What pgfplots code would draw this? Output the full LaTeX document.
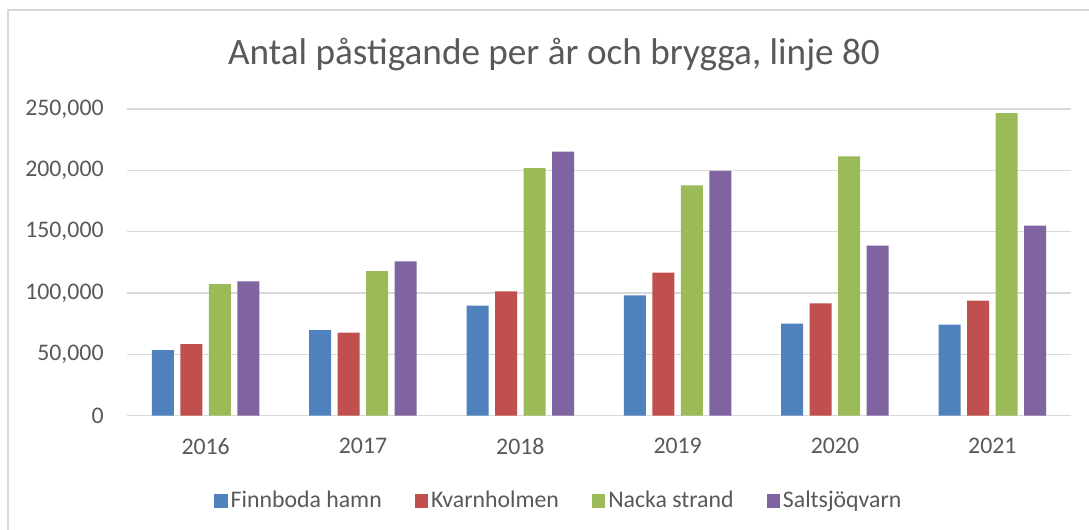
\documentclass[border=0pt]{standalone}
\usepackage{fontspec}
\setmainfont{Carlito}
\usepackage{pgfplots}
\pgfplotsset{compat=1.18}
\definecolor{txt}{HTML}{595959}
\definecolor{gridc}{HTML}{D9D9D9}
\definecolor{cA}{HTML}{4F81BD}
\definecolor{cB}{HTML}{C0504D}
\definecolor{cC}{HTML}{9BBB59}
\definecolor{cD}{HTML}{8064A2}
\pgfplotsset{sq/.style={draw=none, fill=#1, legend image code/.code={\fill[#1] (0pt,-3.35pt) rectangle (6.7pt,3.35pt);}}}
\begin{document}
\begin{tikzpicture}
\useasboundingbox (0,0) rectangle (544.5pt,265pt);
\fill[white] (0,0) rectangle (544.5pt,265pt);
\draw[gridc, line width=0.65pt] (4pt,0) -- (4pt,260pt) -- (544.5pt,260pt);
\node[anchor=base, font=\fontsize{18.6}{22}\selectfont, text=txt, inner sep=0pt] at (277pt,232.5pt) {Antal påstigande per år och brygga, linje 80};
\begin{axis}[
  at={(63.5pt,57.15pt)}, anchor=south west,
  scale only axis, width=472pt, height=153.35pt,
  ybar=3.25pt, bar width=11pt,
  xmin=-0.5, xmax=5.5, ymin=0, ymax=250000,
  xtick={0,1,2,3,4,5}, xticklabels={2016,2017,2018,2019,2020,2021},
  ytick={0,50000,100000,150000,200000,250000},
  scaled y ticks=false,
  /pgf/number format/assume math mode=true,
  yticklabel={\pgfmathprintnumber[fixed,1000 sep={,}]{\tick}},
  ymajorgrids, grid style={gridc, line width=0.7pt},
  axis line style={draw=none},
  major tick length=0pt, tick style={draw=none},
  ticklabel style={font=\fontsize{11.9}{14}\selectfont, text=txt, inner sep=0pt},
  yticklabel style={anchor=east, xshift=-11.5pt},
  xticklabel style={anchor=north, yshift=-11pt},
  legend columns=4,
  legend style={draw=none, fill=none, at={(0.458,-0.278)}, anchor=center,
    font=\fontsize{11.9}{14}\selectfont, text=txt,
    nodes={inner xsep=1.5pt, inner ysep=0pt},
    /tikz/column sep=0pt},
]
\addplot[sq=cA] coordinates {(0,53500) (1,69800) (2,89700) (3,98100) (4,75000) (5,74200)};
\addplot[sq=cB] coordinates {(0,58400) (1,67700) (2,101400) (3,116600) (4,91600) (5,93800)};
\addplot[sq=cC] coordinates {(0,107300) (1,117900) (2,201900) (3,187800) (4,211400) (5,246700)};
\addplot[sq=cD] coordinates {(0,109500) (1,125800) (2,215200) (3,199500) (4,138600) (5,154900)};
\legend{Finnboda hamn\rule{15pt}{0pt}, Kvarnholmen\rule{15pt}{0pt}, Nacka strand\rule{15pt}{0pt}, Saltsjöqvarn}
\end{axis}
\end{tikzpicture}
\end{document}
